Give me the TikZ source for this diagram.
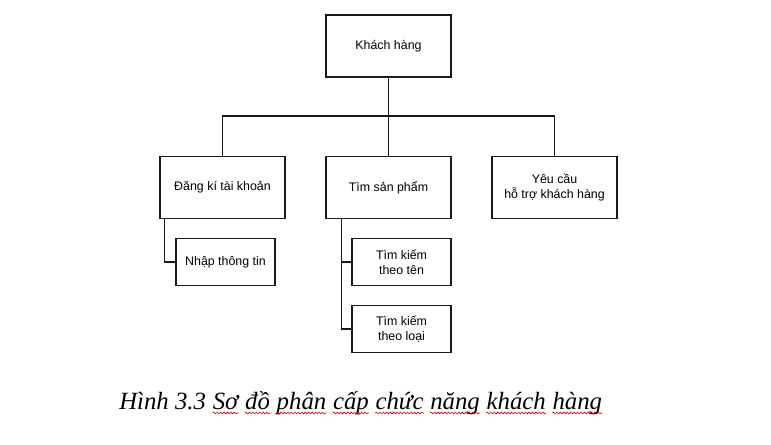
\documentclass[tikz,border=0pt]{standalone}
\usepackage{fontspec}
\setmainfont{Liberation Serif}
\newfontfamily\boxfont{Liberation Sans}
\usetikzlibrary{calc,decorations.pathmorphing}
\tikzset{
  conn/.style={line width=0.95pt, black!90},
  bigbox/.style={draw=black!90, line width=0.95pt, minimum width=93.75pt, minimum height=46.5pt, inner sep=0pt, align=center, font=\boxfont\fontsize{9.3}{10.8}\selectfont},
  smallbox/.style={draw=black!90, line width=0.95pt, minimum width=74.25pt, minimum height=35pt, inner sep=0pt, align=center, font=\boxfont\fontsize{9.3}{11.2}\selectfont},
  capword/.style={inner sep=0pt, anchor=base west, font=\fontsize{18.6}{22}\selectfont\itshape},
  squig/.style={draw=red!85!black, line width=0.45pt, decorate, decoration={snake, amplitude=0.7pt, segment length=2.6pt}}
}
\begin{document}
\begin{tikzpicture}[x=0.75pt,y=-0.75pt]
\useasboundingbox (0,0) rectangle (771,445);
\fill[white] (0,0) rectangle (771,445);
% boxes
\node[bigbox] (kh) at (388.5,46) {Khách hàng};
\node[bigbox] (dk) at (222.5,187.5) {Đăng kí tài khoản};
\node[bigbox] (tsp) at (388.5,187.5) {Tìm sản phẩm};
\node[bigbox] (yc) at (554.5,187.5) {Yêu cầu\\hỗ trợ khách hàng};
\node[smallbox] (nt) at (225.5,262) {Nhập thông tin};
\node[smallbox] (tt) at (401.5,262) {Tìm kiếm\\theo tên};
\node[smallbox] (tl) at (401.5,329) {Tìm kiếm\\theo loại};
% connectors
\coordinate (bus) at (388.5,116);
\draw[conn] (kh.south) -- (tsp.north);
\draw[conn] (dk.north) |- (bus) -| (yc.north);
\coordinate (dkl) at ($(dk.south west)+(5,0)$);
\coordinate (tspl) at ($(tsp.south west)+(16,0)$);
\draw[conn] (dkl) |- (nt.west);
\draw[conn] (tspl) |- (tt.west);
\draw[conn] (tspl) |- (tl.west);
% caption
\node[capword] (w1) at (119,409) {Hình 3.3};
\node[capword] (w2) at ($(w1.base east)+(6.2,0)$) {Sơ};
\node[capword] (w3) at ($(w2.base east)+(6.2,0)$) {đồ};
\node[capword] (w4) at ($(w3.base east)+(6.2,0)$) {phân};
\node[capword] (w5) at ($(w4.base east)+(6.2,0)$) {cấp};
\node[capword] (w6) at ($(w5.base east)+(6.2,0)$) {chức};
\node[capword] (w7) at ($(w6.base east)+(6.2,0)$) {năng};
\node[capword] (w8) at ($(w7.base east)+(6.2,0)$) {khách};
\node[capword] (w9) at ($(w8.base east)+(6.2,0)$) {hàng};
\foreach \w in {w2,w3,w4,w5,w6,w7,w8,w9}{
  \path[squig] ($(\w.base west)+(0,4)$) -- ($(\w.base east)+(0,4)$);
}
\end{tikzpicture}
\end{document}
